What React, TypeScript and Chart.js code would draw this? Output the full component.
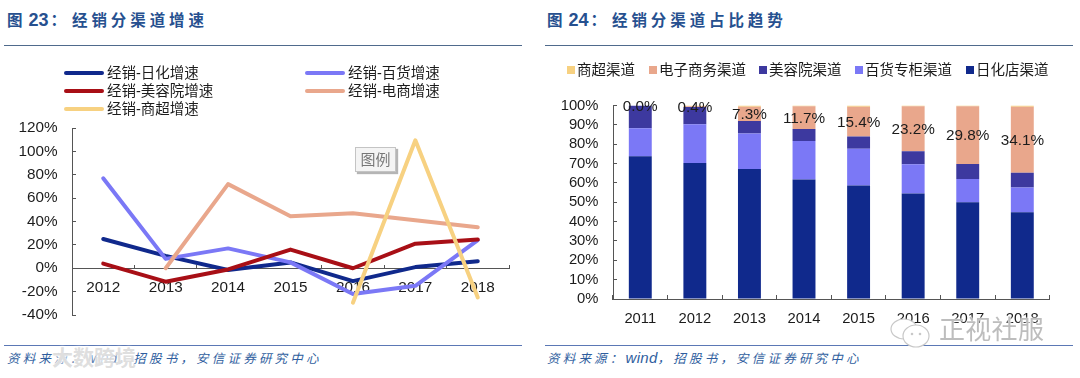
import React, { useEffect, useRef } from "react";
import { Chart, registerables } from "chart.js";

Chart.register(...registerables);

const growthYears = ["2012", "2013", "2014", "2015", "2016", "2017", "2018"];
const dailyGrowth = [25, 10.6, -1.5, 5, -11, 1, 6];
const deptGrowth = [77, 8, 17, 5, -22, -15, 24];
const salonGrowth = [4, -11.5, -1, 16, 0, 21, 24.5];
const ecomGrowth = [null, 0, 72, 44.5, 47, 41, 35];
const superGrowth = [null, null, null, null, -29.5, 109.5, -25];

const shareYears = ["2011", "2012", "2013", "2014", "2015", "2016", "2017", "2018"];
const dailyShare = [73.8, 70.3, 67.2, 61.7, 58.6, 54.5, 50, 44.8];
const deptShare = [14.5, 20, 18.3, 20, 19, 15.2, 12, 12.8];
const salonShare = [11.7, 8.9, 6.5, 6.2, 6.4, 6.7, 7.8, 7.6];
const ecomShare = [0, 0.4, 7.3, 11.7, 15.4, 23.2, 29.8, 34.1];
const superShare = [0, 0.4, 0.7, 0.4, 0.6, 0.4, 0.4, 0.7];

const NAVY = "#10298c";
const LAV = "#7b78f6";
const RED = "#a80f16";
const SALMON = "#e9a78c";
const YELLOW = "#f7d181";
const INDIGO = "#3d399f";
const ARIAL = "'Liberation Sans', Arial, sans-serif";
const CJK = "'Liberation Sans', 'Noto Sans CJK SC', sans-serif";
const AXIS = "#555555";
const TEXT = "#1c1c1c";

const lineLegend = [
  { label: "经销-日化增速", color: NAVY, x: 64, y: 73 },
  { label: "经销-百货增速", color: LAV, x: 305, y: 73 },
  { label: "经销-美容院增速", color: RED, x: 64, y: 91 },
  { label: "经销-电商增速", color: SALMON, x: 305, y: 91 },
  { label: "经销-商超增速", color: YELLOW, x: 64, y: 109 },
];
const barLegend = [
  { label: "商超渠道", color: YELLOW, x: 567 },
  { label: "电子商务渠道", color: SALMON, x: 649 },
  { label: "美容院渠道", color: INDIGO, x: 759 },
  { label: "百货专柜渠道", color: LAV, x: 855 },
  { label: "日化店渠道", color: NAVY, x: 966 },
];

const segmentLabels = {
  id: "segmentLabels",
  afterDatasetsDraw(chart: any) {
    const { ctx } = chart;
    const meta = chart.getDatasetMeta(3);
    ctx.save();
    ctx.font = `15.3px ${ARIAL}`;
    ctx.fillStyle = TEXT;
    ctx.textAlign = "center";
    ctx.textBaseline = "middle";
    meta.data.forEach((bar: any, i: number) => {
      ctx.fillText(ecomShare[i].toFixed(1) + "%", bar.x, (bar.y + bar.base) / 2 + 1);
    });
    ctx.restore();
  },
};

function lineSet(label: string, data: (number | null)[], color: string, order: number) {
  return {
    label, data, order, borderColor: color, backgroundColor: color, borderWidth: 4,
    pointRadius: 0, tension: 0, borderCapStyle: "round" as const, borderJoinStyle: "round" as const,
  };
}

function Title({ x, num, text }: { x: number; num: string; text: string }) {
  return (
    <div style={{ position: "absolute", left: x, top: 7, height: 24, lineHeight: "24px", whiteSpace: "nowrap", color: "#26508f", fontFamily: "'Noto Sans CJK SC'", fontSize: 15.5, fontWeight: 700 }}>
      <span>图</span>
      <span style={{ fontFamily: ARIAL, fontSize: 18, marginLeft: 6 }}>{num}</span>
      <span style={{ marginLeft: 2 }}>：</span>
      <span style={{ letterSpacing: 3.9, marginLeft: 6 }}>{text}</span>
    </div>
  );
}

function Source({ x }: { x: number }) {
  return (
    <div style={{ position: "absolute", left: x, top: 349, height: 18, lineHeight: "18px", whiteSpace: "nowrap", color: "#2f5e9e", fontFamily: "'Noto Sans CJK SC'", fontSize: 12.5, fontStyle: "italic", letterSpacing: 3.2 }}>
      资料来源：<span style={{ fontFamily: ARIAL, fontSize: 15, letterSpacing: 0.3 }}>wind</span>，招股书，安信证券研究中心
    </div>
  );
}

const noScalePadding = (s: any) => {
  s.paddingTop = 0;
  s.paddingBottom = 0;
  s.paddingLeft = 0;
  s.paddingRight = 0;
};

export default function App() {
  const leftRef = useRef<HTMLCanvasElement>(null);
  const rightRef = useRef<HTMLCanvasElement>(null);

  useEffect(() => {
    const left = new Chart(leftRef.current!, {
      type: "line",
      data: {
        labels: growthYears,
        datasets: [
          lineSet("经销-日化增速", dailyGrowth, NAVY, 5),
          lineSet("经销-百货增速", deptGrowth, LAV, 4),
          lineSet("经销-美容院增速", salonGrowth, RED, 3),
          lineSet("经销-电商增速", ecomGrowth, SALMON, 2),
          lineSet("经销-商超增速", superGrowth, YELLOW, 1),
        ],
      },
      options: {
        responsive: false,
        animation: false,
        layout: { padding: { top: 12, right: 21, bottom: 16, left: 0 } },
        plugins: { legend: { display: false }, tooltip: { enabled: false } },
        scales: {
          x: {
            type: "category",
            offset: true,
            position: { y: 0 },
            grid: { drawOnChartArea: false, offset: true, tickLength: -4, tickColor: AXIS },
            border: { color: AXIS, width: 1 },
            afterFit: noScalePadding,
            ticks: { padding: 14, color: TEXT, font: { family: ARIAL, size: 15.3 }, autoSkip: false, maxRotation: 0 },
          },
          y: {
            min: -40,
            max: 120,
            grid: { drawOnChartArea: false, tickLength: -4, tickColor: AXIS },
            border: { color: AXIS, width: 1 },
            afterFit: (s: any) => { noScalePadding(s); s.width = 72; },
            ticks: { stepSize: 20, autoSkip: false, padding: 18.5, color: TEXT, font: { family: ARIAL, size: 15.3 }, callback: (v: any) => v + "%" },
          },
        },
      } as any,
    });

    const right = new Chart(rightRef.current!, {
      type: "bar",
      data: {
        labels: shareYears,
        datasets: [
          { label: "日化店渠道", data: dailyShare, backgroundColor: NAVY },
          { label: "百货专柜渠道", data: deptShare, backgroundColor: LAV },
          { label: "美容院渠道", data: salonShare, backgroundColor: INDIGO },
          { label: "电子商务渠道", data: ecomShare, backgroundColor: SALMON },
          { label: "商超渠道", data: superShare, backgroundColor: YELLOW },
        ],
      },
      options: {
        responsive: false,
        animation: false,
        layout: { padding: { top: 15.5, right: 20.4, bottom: 0, left: 0 } },
        datasets: { bar: { categoryPercentage: 1, barPercentage: 0.42 } },
        plugins: { legend: { display: false }, tooltip: { enabled: false } },
        scales: {
          x: {
            stacked: true,
            grid: { drawOnChartArea: false, offset: true, tickLength: -4, tickColor: AXIS },
            border: { color: AXIS, width: 1 },
            afterFit: (s: any) => { noScalePadding(s); s.height = 31; },
            ticks: { padding: 15, color: TEXT, font: { family: ARIAL, size: 14.8 }, autoSkip: false, maxRotation: 0 },
          },
          y: {
            stacked: true,
            min: 0,
            max: 100,
            grid: { drawOnChartArea: false, tickLength: -4, tickColor: AXIS },
            border: { color: AXIS, width: 1 },
            afterFit: (s: any) => { noScalePadding(s); s.width = 73; },
            ticks: { stepSize: 10, autoSkip: false, padding: 18.5, color: TEXT, font: { family: ARIAL, size: 14.8 }, callback: (v: any) => v + "%" },
          },
        },
      } as any,
      plugins: [segmentLabels],
    });

    return () => {
      left.destroy();
      right.destroy();
    };
  }, []);

  return (
    <div style={{ position: "fixed", left: 0, top: 0, width: 1080, height: 378, background: "#fff", overflow: "hidden" }}>
      <Title x={7} num="23" text="经销分渠道增速" />
      <Title x={547} num="24" text="经销分渠道占比趋势" />
      <div style={{ position: "absolute", left: 4, top: 45, width: 518, height: 1, background: "#4f6a8c" }} />
      <div style={{ position: "absolute", left: 545, top: 45, width: 528, height: 1, background: "#4f6a8c" }} />
      <div style={{ position: "absolute", left: 4, top: 345, width: 518, height: 1, background: "#5b78b5" }} />
      <div style={{ position: "absolute", left: 545, top: 345, width: 528, height: 1, background: "#5b78b5" }} />

      <canvas ref={leftRef} width={530} height={215} style={{ position: "absolute", left: 0, top: 116 }} />
      <canvas ref={rightRef} width={530} height={240} style={{ position: "absolute", left: 540, top: 90 }} />

      {lineLegend.map((d) => (
        <React.Fragment key={d.label}>
          <div style={{ position: "absolute", left: d.x, top: d.y - 2, width: 40, height: 4, borderRadius: 2, background: d.color }} />
          <div style={{ position: "absolute", left: d.x + 43, top: d.y - 10, lineHeight: "20px", fontFamily: CJK, fontSize: 14.5, color: TEXT, whiteSpace: "nowrap" }}>{d.label}</div>
        </React.Fragment>
      ))}
      {barLegend.map((d) => (
        <React.Fragment key={d.label}>
          <div style={{ position: "absolute", left: d.x, top: 66, width: 8, height: 8, background: d.color }} />
          <div style={{ position: "absolute", left: d.x + 10, top: 60, lineHeight: "20px", fontFamily: CJK, fontSize: 14.5, color: TEXT, whiteSpace: "nowrap" }}>{d.label}</div>
        </React.Fragment>
      ))}

      <div style={{ position: "absolute", left: 355, top: 147, width: 39, height: 23, lineHeight: "23px", textAlign: "center", border: "1px solid #c4c4c4", background: "#f4f4f4", boxShadow: "2px 2px 1px #b5b5b5", color: "#777", fontFamily: CJK, fontSize: 15 }}>图例</div>

      <Source x={7} />
      <Source x={547} />

      <div style={{ position: "absolute", left: 52, top: 347, lineHeight: "22px", fontFamily: CJK, fontSize: 21, fontWeight: 700, color: "rgba(215,215,215,0.8)", whiteSpace: "nowrap", textShadow: "0 0 3px #fff, 0 0 3px #fff" }}>大数跨境</div>
      <svg width="44" height="32" style={{ position: "absolute", left: 889, top: 317 }}>
        <ellipse cx="15" cy="12" rx="13" ry="10" fill="#fff" stroke="#c8c8c8" strokeWidth="1.2" />
        <ellipse cx="27" cy="19" rx="13" ry="11" fill="#fff" stroke="#c8c8c8" strokeWidth="1.2" />
        <circle cx="23" cy="17" r="1.3" fill="#c8c8c8" />
        <circle cx="31" cy="17" r="1.3" fill="#c8c8c8" />
      </svg>
      <div style={{ position: "absolute", left: 939, top: 311, lineHeight: "38px", fontFamily: CJK, fontSize: 26, letterSpacing: 0.3, color: "#bdbdbd", whiteSpace: "nowrap", textShadow: "0 0 2px #fff, 0 0 2px #fff" }}>正视社服</div>
    </div>
  );
}
